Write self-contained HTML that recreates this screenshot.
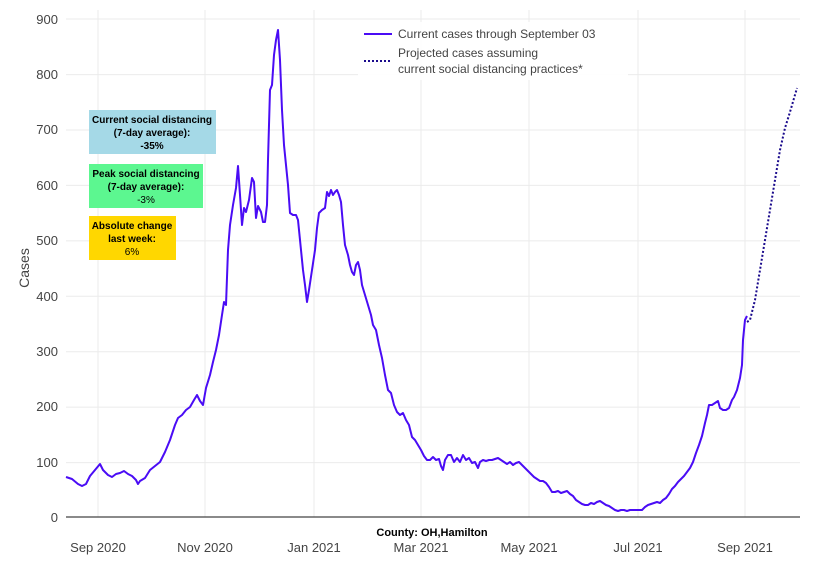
<!DOCTYPE html>
<html><head><style>body{margin:0;background:#fff}svg{font-family:"Liberation Sans",sans-serif}</style></head><body>
<svg width="830" height="577" xmlns="http://www.w3.org/2000/svg">
<g stroke="#ebebeb" stroke-width="1">
<line x1="66" x2="800" y1="462.6" y2="462.6"/><line x1="66" x2="800" y1="407.1" y2="407.1"/><line x1="66" x2="800" y1="351.7" y2="351.7"/><line x1="66" x2="800" y1="296.3" y2="296.3"/><line x1="66" x2="800" y1="240.9" y2="240.9"/><line x1="66" x2="800" y1="185.4" y2="185.4"/><line x1="66" x2="800" y1="130" y2="130"/><line x1="66" x2="800" y1="74.6" y2="74.6"/><line x1="66" x2="800" y1="19" y2="19"/>
<line x1="98" x2="98" y1="10" y2="517"/><line x1="205" x2="205" y1="10" y2="517"/><line x1="314" x2="314" y1="10" y2="517"/><line x1="421" x2="421" y1="10" y2="517"/><line x1="529" x2="529" y1="10" y2="517"/><line x1="638" x2="638" y1="10" y2="517"/><line x1="745" x2="745" y1="10" y2="517"/>
</g>
<line x1="66" x2="800" y1="517" y2="517" stroke="#444" stroke-width="1.2"/>
<g font-size="13" fill="#444" text-anchor="end">
<text x="58" y="522">0</text><text x="58" y="467">100</text><text x="58" y="411">200</text><text x="58" y="356">300</text><text x="58" y="301">400</text><text x="58" y="245">500</text><text x="58" y="190">600</text><text x="58" y="134">700</text><text x="58" y="79">800</text><text x="58" y="24">900</text>
</g>
<g font-size="13" fill="#444" text-anchor="middle">
<text x="98" y="552">Sep 2020</text><text x="205" y="552">Nov 2020</text><text x="314" y="552">Jan 2021</text><text x="421" y="552">Mar 2021</text><text x="529" y="552">May 2021</text><text x="638" y="552">Jul 2021</text><text x="745" y="552">Sep 2021</text>
</g>
<text x="432" y="536" font-size="11" font-weight="bold" text-anchor="middle" fill="#000">County: OH,Hamilton</text>
<text x="29" y="268" font-size="14" fill="#444" text-anchor="middle" transform="rotate(-90 29 268)">Cases</text>
<polyline fill="none" stroke="#4a0cf5" stroke-width="2" stroke-linejoin="round" points="66,477 72,479 78,484 82,486 86,484 90,476 95,470 100,464 103,470 108,475 112,477 116,474 120,473 124,471 128,474 132,476 136,480 138,484 140,481 145,478 150,470 155,466 160,462 165,452 170,440 175,425 178,418 182,415 186,410 190,407 194,400 197,395 200,401 203,405 206,388 210,375 213,362 216,350 219,335 222,315 224,302 226,305 228,250 230,225 233,205 236,188 238,166 240,195 242,225 244,208 246,212 249,200 252,178 254,182 256,218 258,206 261,212 263,222 265,222 267,205 268,160 270,90 272,85 274,55 276,40 278,30 280,60 282,110 284,145 286,165 288,185 290,213 293,215 296,215 298,220 300,240 303,270 305,285 307,302 309,290 312,270 315,250 317,228 319,213 322,210 325,208 327,192 329,196 331,190 333,195 335,192 337,190 339,195 341,202 343,225 345,245 348,255 350,265 352,272 354,275 356,265 358,262 360,270 362,285 365,295 368,305 371,315 373,325 376,330 379,345 382,358 385,375 388,390 391,393 394,405 397,412 400,415 403,413 406,420 409,425 412,437 415,440 418,445 421,450 424,456 427,460 430,460 433,457 436,460 439,459 441,466 443,470 445,460 448,455 451,455 454,462 457,458 460,462 463,455 466,460 469,458 472,463 475,462 478,468 480,462 483,460 486,461 489,460 492,460 495,459 498,458 501,460 504,462 507,464 510,462 513,465 516,463 519,462 522,465 525,468 528,471 531,474 534,477 537,479 540,481 543,481 546,483 549,487 552,492 555,492 558,491 561,493 564,492 567,491 570,494 573,496 576,500 579,502 582,504 585,505 588,505 591,503 594,504 597,502 600,501 603,503 606,505 609,506 612,508 615,510 618,511 621,510 624,510 627,511 630,510 633,510 636,510 639,510 642,510 645,507 648,505 651,504 654,503 657,502 660,503 663,500 666,498 669,494 672,489 675,486 678,482 681,479 684,476 687,472 690,468 693,462 696,453 699,445 702,436 705,423 707,415 709,405 712,405 715,403 718,401 720,408 723,410 726,410 729,408 732,400 734,397 737,390 740,378 742,365 743,340 745,320 747,316"/>
<polyline fill="none" stroke="#1a0a8c" stroke-width="2" stroke-dasharray="2,2" points="747,322 750,320 755,300 760,270 765,240 770,210 775,180 780,150 785,128 790,112 797,88"/>
<rect x="358" y="22" width="270" height="58" fill="#fff" opacity="0.9"/>
<line x1="364" x2="392" y1="34" y2="34" stroke="#4a0cf5" stroke-width="2"/>
<line x1="364" x2="392" y1="61" y2="61" stroke="#1a0a8c" stroke-width="2" stroke-dasharray="2,2"/>
<g font-size="12" fill="#444"><text x="398" y="38">Current cases through September 03</text><text x="398" y="57">Projected cases assuming</text><text x="398" y="73">current social distancing practices*</text></g>
<rect x="89" y="110" width="127" height="44" fill="#a5d9e7"/>
<rect x="89" y="164" width="114" height="44" fill="#5cf790"/>
<rect x="89" y="216" width="87" height="44" fill="#ffd700"/>
<g font-size="10" text-anchor="middle" fill="#000">
<text x="152" y="123" font-weight="bold">Current social distancing</text><text x="152" y="136" font-weight="bold">(7-day average):</text><text x="152" y="149" font-weight="bold">-35%</text>
<text x="146" y="177" font-weight="bold">Peak social distancing</text><text x="146" y="190" font-weight="bold">(7-day average):</text><text x="146" y="203">-3%</text>
<text x="132" y="229" font-weight="bold">Absolute change</text><text x="132" y="242" font-weight="bold">last week:</text><text x="132" y="255">6%</text>
</g>
</svg>
</body></html>
